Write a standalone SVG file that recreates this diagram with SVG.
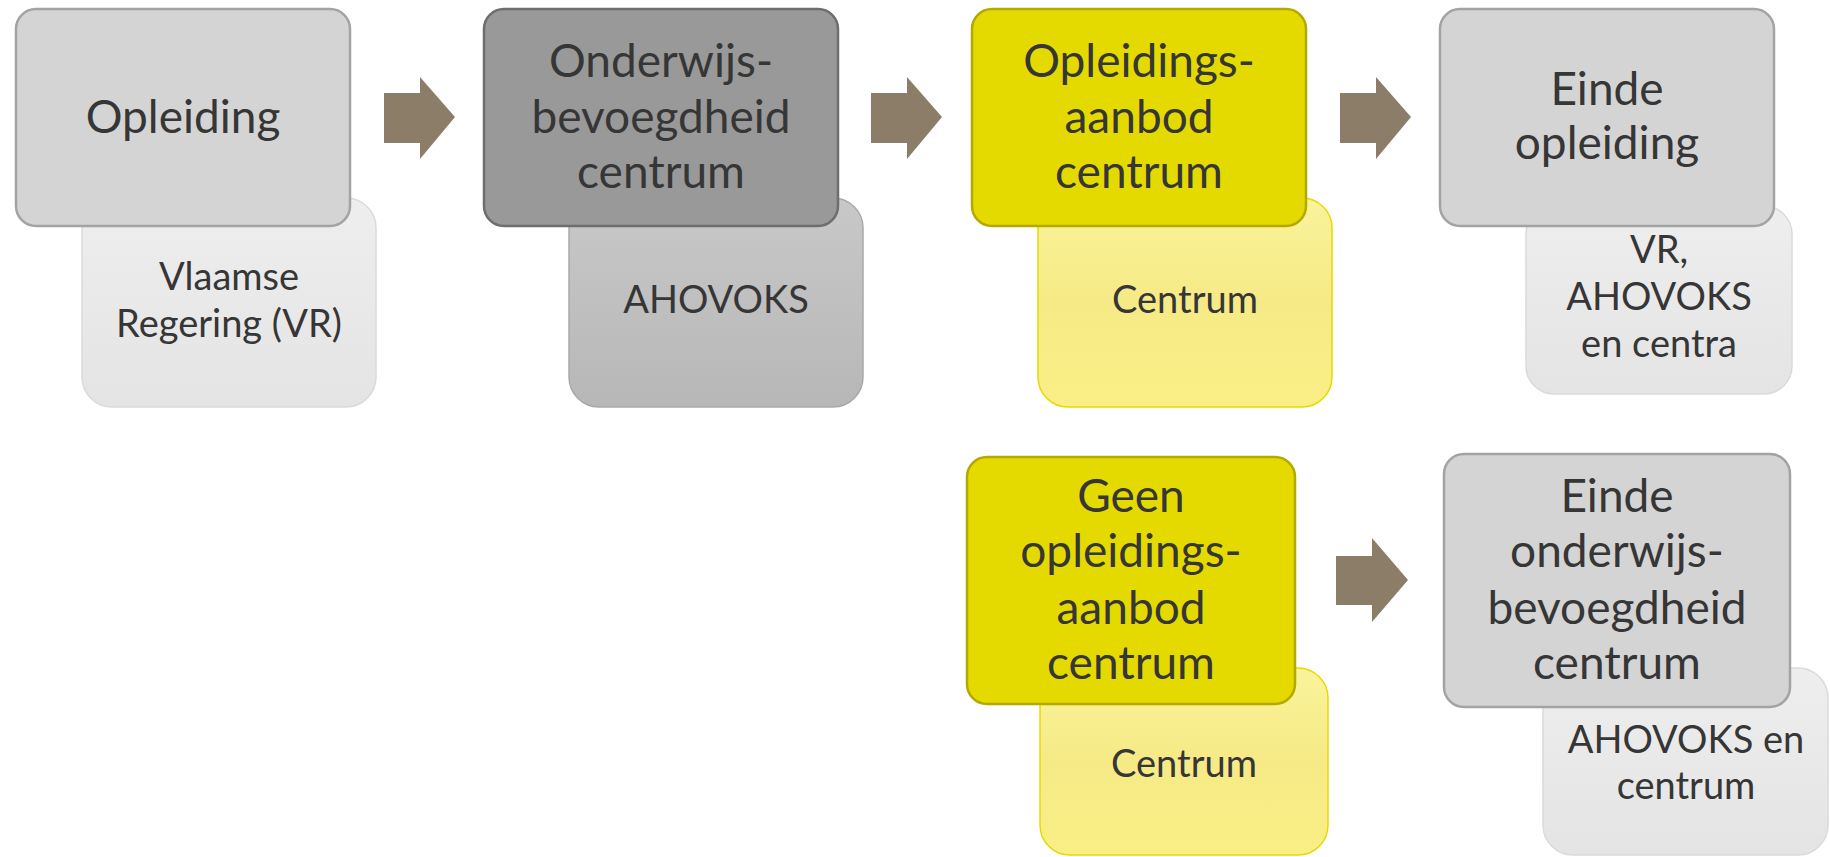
<svg xmlns="http://www.w3.org/2000/svg" width="1830" height="857" viewBox="0 0 1830 857">
<defs>
<linearGradient id="gLight" x1="0" y1="0" x2="0" y2="1"><stop offset="0" stop-color="#eeeeee"/><stop offset="1" stop-color="#e4e4e4"/></linearGradient>
<linearGradient id="gMid" x1="0" y1="0" x2="0" y2="1"><stop offset="0" stop-color="#c8c8c8"/><stop offset="1" stop-color="#b7b7b7"/></linearGradient>
<linearGradient id="gYel" x1="0" y1="0" x2="0" y2="1"><stop offset="0" stop-color="#faf39b"/><stop offset="0.5" stop-color="#f6ea86"/><stop offset="1" stop-color="#f9ef85"/></linearGradient>
<style>
.main{stroke-width:2.5}
.sub{stroke-width:1.5}
.grey{fill:#d4d4d4;stroke:#a3a3a3}
.dark{fill:#999999;stroke:#6e6e6e}
.yel{fill:#e5da00;stroke:#b3a900}
.subLight{fill:url(#gLight);stroke:#dadada}
.subMid{fill:url(#gMid);stroke:#a9a9a9}
.subYel{fill:url(#gYel);stroke:#e6da00}
.arrow{fill:#8b7d68}
text{font-family:Lato,"Liberation Sans",sans-serif;fill:#363636;text-anchor:middle}
.t1{font-size:46px}
.t2{font-size:38px}
</style>
</defs>
<g id="connectors">
<polygon class="arrow" points="384,93 420,93 420,77 455,117 420,159 420,143 384,143"/>
<polygon class="arrow" points="871,93 907,93 907,77 942,117 907,159 907,143 871,143"/>
<polygon class="arrow" points="1340,93 1376,93 1376,77 1411,117 1376,159 1376,143 1340,143"/>
<polygon class="arrow" points="1336,556 1372,556 1372,538 1408,580 1372,622 1372,605 1336,605"/>
</g>
<g id="node-vr">
<rect class="sub subLight" x="82" y="198" width="294" height="209" rx="30"/>
<text class="t2" x="229" y="290">Vlaamse</text>
<text class="t2" x="229" y="337">Regering (VR)</text>
</g>
<g id="node-opleiding">
<rect class="main grey" x="16" y="9" width="334" height="217" rx="20"/>
<text class="t1" x="183" y="133">Opleiding</text>
</g>
<g id="node-ahovoks">
<rect class="sub subMid" x="569" y="198" width="294" height="209" rx="30"/>
<text class="t2" x="716" y="313">AHOVOKS</text>
</g>
<g id="node-onderwijs">
<rect class="main dark" x="484" y="9" width="354" height="217" rx="20"/>
<text class="t1" x="661" y="77">Onderwijs-</text>
<text class="t1" x="661" y="133">bevoegdheid</text>
<text class="t1" x="661" y="188">centrum</text>
</g>
<g id="node-centrum1">
<rect class="sub subYel" x="1038" y="198" width="294" height="209" rx="30"/>
<text class="t2" x="1185" y="313">Centrum</text>
</g>
<g id="node-aanbod">
<rect class="main yel" x="972" y="9" width="334" height="217" rx="20"/>
<text class="t1" x="1139" y="77">Opleidings-</text>
<text class="t1" x="1139" y="133">aanbod</text>
<text class="t1" x="1139" y="188">centrum</text>
</g>
<g id="node-vr-centra">
<rect class="sub subLight" x="1526" y="206" width="266" height="188" rx="28"/>
<text class="t2" x="1659" y="263">VR,</text>
<text class="t2" x="1659" y="310">AHOVOKS</text>
<text class="t2" x="1659" y="357">en centra</text>
</g>
<g id="node-einde-opleiding">
<rect class="main grey" x="1440" y="9" width="334" height="217" rx="20"/>
<text class="t1" x="1607" y="105">Einde</text>
<text class="t1" x="1607" y="159">opleiding</text>
</g>
<g id="node-centrum2">
<rect class="sub subYel" x="1040" y="668" width="288" height="187" rx="30"/>
<text class="t2" x="1184" y="777">Centrum</text>
</g>
<g id="node-geen">
<rect class="main yel" x="967" y="457" width="328" height="247" rx="20"/>
<text class="t1" x="1131" y="512">Geen</text>
<text class="t1" x="1131" y="567">opleidings-</text>
<text class="t1" x="1131" y="624">aanbod</text>
<text class="t1" x="1131" y="679">centrum</text>
</g>
<g id="node-ahovoks-centrum">
<rect class="sub subLight" x="1543" y="668" width="285" height="187" rx="30"/>
<text class="t2" x="1686" y="753">AHOVOKS en</text>
<text class="t2" x="1686" y="799">centrum</text>
</g>
<g id="node-einde-onderwijs">
<rect class="main grey" x="1444" y="454" width="346" height="253" rx="20"/>
<text class="t1" x="1617" y="512">Einde</text>
<text class="t1" x="1617" y="567">onderwijs-</text>
<text class="t1" x="1617" y="624">bevoegdheid</text>
<text class="t1" x="1617" y="679">centrum</text>
</g>
</svg>
